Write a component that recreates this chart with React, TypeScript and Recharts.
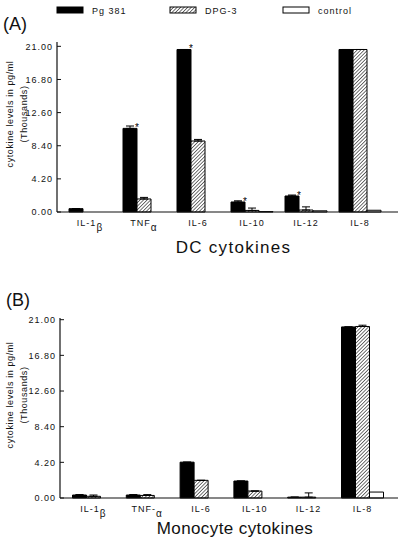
import { BarChart, Bar, XAxis, YAxis, ErrorBar, LabelList, Legend } from 'recharts';

// category names (base text + lowered part)
const dcNames = ['IL-1', 'TNF', 'IL-6', 'IL-10', 'IL-12', 'IL-8'];
const dcSubs = ['β', 'α', '', '', '', ''];
const moNames = ['IL-1', 'TNF-', 'IL-6', 'IL-10', 'IL-12', 'IL-8'];
const moSubs = ['β', 'α', '', '', '', ''];

const seriesNames = ['Pg 381', 'DPG-3', 'control'];
const yTicks = [0, 4.2, 8.4, 12.6, 16.8, 21];

// (A) dendritic cells, thousands pg/ml
const dcPg = [0.42, 10.6, 20.6, 1.27, 2.03, 20.6];
const dcDpg = [0, 1.65, 9.0, 0.2, 0.25, 20.6];
const dcControl = [0, 0, 0, 0.05, 0.15, 0.22];
const dcPgErr = [0, 0.3, 0, 0.15, 0.12, 0];
const dcDpgErr = [0.5, 0.2, 0.2, 0.3, 0.4, 0];
const dcStars = ['', '*', '*', '*', '*', ''];

// (B) monocytes
const moPg = [0.35, 0.35, 4.22, 2.0, 0.1, 20.15];
const moDpg = [0.2, 0.3, 2.08, 0.82, 0.1, 20.2];
const moControl = [0, 0, 0, 0, 0, 0.7];
const moPgErr = [0.05, 0.05, 0, 0, 0, 0];
const moDpgErr = [0.15, 0.1, 0, 0, 0.5, 0.15];
const moStars = ['', '', '', '', '', ''];

const FONT = '"Liberation Sans", Arial, sans-serif';
const INK = '#111';

function buildRows(names: string[], subs: string[], pg: number[], dpg: number[], ctl: number[], pgE: number[], dpgE: number[], stars: string[]) {
  return names.map((name, i) => ({
    name,
    sub: subs[i],
    pg: pg[i],
    dpg: dpg[i],
    ctl: ctl[i],
    pgErr: [0, pgE[i]],
    dpgErr: [0, dpgE[i]],
    star: stars[i],
  }));
}

const dcData = buildRows(dcNames, dcSubs, dcPg, dcDpg, dcControl, dcPgErr, dcDpgErr, dcStars);
const moData = buildRows(moNames, moSubs, moPg, moDpg, moControl, moPgErr, moDpgErr, moStars);

function Hatch({ id }: { id: string }) {
  return (
    <pattern id={id} patternUnits="userSpaceOnUse" width={2.5} height={2.5} patternTransform="rotate(45)">
      <rect width={2.5} height={2.5} fill="#fff" />
      <line x1={0} y1={0} x2={0} y2={2.5} stroke="#000" strokeWidth={1.1} />
    </pattern>
  );
}

const LegendBox = () => {
  const xs = [57, 170, 283];
  const fills = ['#000', 'url(#hatchLegend)', '#fff'];
  return (
    <svg width={403} height={20} style={{ display: 'block' }}>
      <defs>
        <Hatch id="hatchLegend" />
      </defs>
      {seriesNames.map((s, i) => (
        <g key={s}>
          <rect x={xs[i]} y={7} width={26} height={6} fill={fills[i]} stroke="#000" strokeWidth={1} />
          <text x={xs[i] + 35} y={13.5} fontSize={9} letterSpacing={1} fontFamily={FONT} fill={INK}>{s}</text>
        </g>
      ))}
    </svg>
  );
};

const YTick = (props: any) => {
  const { x, y, payload } = props;
  return (
    <text x={x} y={y} dy={3.3} textAnchor="end" fontSize={9} letterSpacing={1} fontFamily={FONT} fill={INK}>
      {Number(payload.value).toFixed(2)}
    </text>
  );
};

const makeXTick = (subs: string[]) => (props: any) => {
  const { x, y, payload, index } = props;
  const sub = subs[index];
  return (
    <text x={x} y={y + 14} textAnchor="middle" fontSize={9} letterSpacing={1} fontFamily={FONT} fill={INK}>
      {payload.value}
      {sub ? <tspan dy={5} fontSize={10}>{sub}</tspan> : null}
    </text>
  );
};

interface PanelProps {
  data: any[];
  subs: string[];
  height: number;
  plotTop: number;
  plotBottom: number;
  yAxisWidth: number;
  maxY: number;
  padL: number;
  padR: number;
  title: string;
  titleSpacing: number;
  titleDy: number;
  hatchId: string;
  withLegend: boolean;
}

function Panel(p: PanelProps) {
  const legendH = p.withLegend ? 20 : 0;
  const xAxisH = p.height - p.plotBottom;
  return (
    <BarChart
      width={403}
      height={p.height}
      data={p.data}
      margin={{ top: p.plotTop - legendH, right: 5, left: 0, bottom: 0 }}
      barGap={0}
      barSize={14}
    >
      <defs>
        <Hatch id={p.hatchId} />
      </defs>
      {p.withLegend && (
        <Legend verticalAlign="top" height={20} wrapperStyle={{ top: 0, left: 0, width: 403 }} content={() => <LegendBox />} />
      )}
      <XAxis
        dataKey="name"
        type="category"
        height={xAxisH}
        padding={{ left: p.padL, right: p.padR }}
        tick={makeXTick(p.subs)}
        tickLine={false}
        tickSize={0}
        tickMargin={0}
        interval={0}
        axisLine={{ stroke: INK, strokeWidth: 1.2 }}
        label={{
          content: (lp: any) => {
            const vb = lp.viewBox;
            return (
              <text
                x={vb.x + vb.width / 2 + 6}
                y={vb.y + p.titleDy}
                textAnchor="middle"
                fontSize={17}
                letterSpacing={p.titleSpacing}
                fontFamily={FONT}
                fill={INK}
              >
                {p.title}
              </text>
            );
          },
        }}
      />
      {/* top and right edges of the frame */}
      <XAxis
        xAxisId="top"
        orientation="top"
        dataKey="name"
        height={0}
        tick={false}
        tickLine={false}
        axisLine={{ stroke: INK, strokeWidth: 1.2 }}
      />
      <YAxis
        yAxisId="right"
        orientation="right"
        type="number"
        domain={[0, p.maxY]}
        width={0}
        tick={false}
        tickLine={false}
        axisLine={{ stroke: INK, strokeWidth: 1.2 }}
      />
      <YAxis
        type="number"
        domain={[0, p.maxY]}
        ticks={yTicks}
        width={p.yAxisWidth}
        tick={<YTick />}
        tickSize={-4}
        tickMargin={8}
        tickLine={{ stroke: INK, strokeWidth: 1 }}
        axisLine={{ stroke: INK, strokeWidth: 1.2 }}
        label={{
          content: (lp: any) => {
            const vb = lp.viewBox;
            const cy = vb.y + vb.height / 2 - 13;
            return (
              <g fontFamily={FONT} fontSize={9} fill={INK} letterSpacing={0.6}>
                <text x={13} y={cy} textAnchor="middle" transform={`rotate(-90 13 ${cy})`}>cytokine levels in pg/ml</text>
                <text x={27} y={cy} textAnchor="middle" transform={`rotate(-90 27 ${cy})`}>(Thousands)</text>
              </g>
            );
          },
        }}
      />
      <Bar dataKey="pg" name={seriesNames[0]} fill="#000" stroke="#000" strokeWidth={1} isAnimationActive={false}>
        <ErrorBar dataKey="pgErr" width={4} stroke="#000" strokeWidth={1} direction="y" />
        <LabelList
          dataKey="star"
          content={(lp: any) =>
            lp.value ? (
              <text x={lp.x + lp.width} y={lp.y + 3} textAnchor="middle" fontSize={10} fontFamily={FONT} fill="#000">
                {lp.value}
              </text>
            ) : null
          }
        />
      </Bar>
      <Bar dataKey="dpg" name={seriesNames[1]} fill={`url(#${p.hatchId})`} stroke="#000" strokeWidth={1} isAnimationActive={false}>
        <ErrorBar dataKey="dpgErr" width={4} stroke="#000" strokeWidth={1} direction="y" />
      </Bar>
      <Bar dataKey="ctl" name={seriesNames[2]} fill="#fff" stroke="#000" strokeWidth={1} isAnimationActive={false} />
    </BarChart>
  );
}

export default function App() {
  return (
    <div style={{ position: 'absolute', left: 0, top: 0, width: 403, height: 540, background: '#fff', fontFamily: FONT }}>
      <div style={{ position: 'absolute', left: 0, top: 0 }}>
        <Panel
          data={dcData}
          subs={dcSubs}
          height={262}
          plotTop={42}
          plotBottom={212}
          yAxisWidth={57}
          maxY={21.55}
          padL={6}
          padR={11}
          title="DC cytokines"
          titleSpacing={1.3}
          titleDy={41}
          hatchId="hatchA"
          withLegend
        />
      </div>
      <div style={{ position: 'absolute', left: 0, top: 260 }}>
        <Panel
          data={moData}
          subs={moSubs}
          height={280}
          plotTop={58}
          plotBottom={238}
          yAxisWidth={60}
          maxY={21.2}
          padL={6.5}
          padR={8.7}
          title="Monocyte cytokines"
          titleSpacing={0.4}
          titleDy={36}
          hatchId="hatchB"
          withLegend={false}
        />
      </div>
      <div style={{ position: 'absolute', left: 3, top: 14, fontSize: 18, color: INK }}>(A)</div>
      <div style={{ position: 'absolute', left: 6, top: 290, fontSize: 18, color: INK }}>(B)</div>
    </div>
  );
}
